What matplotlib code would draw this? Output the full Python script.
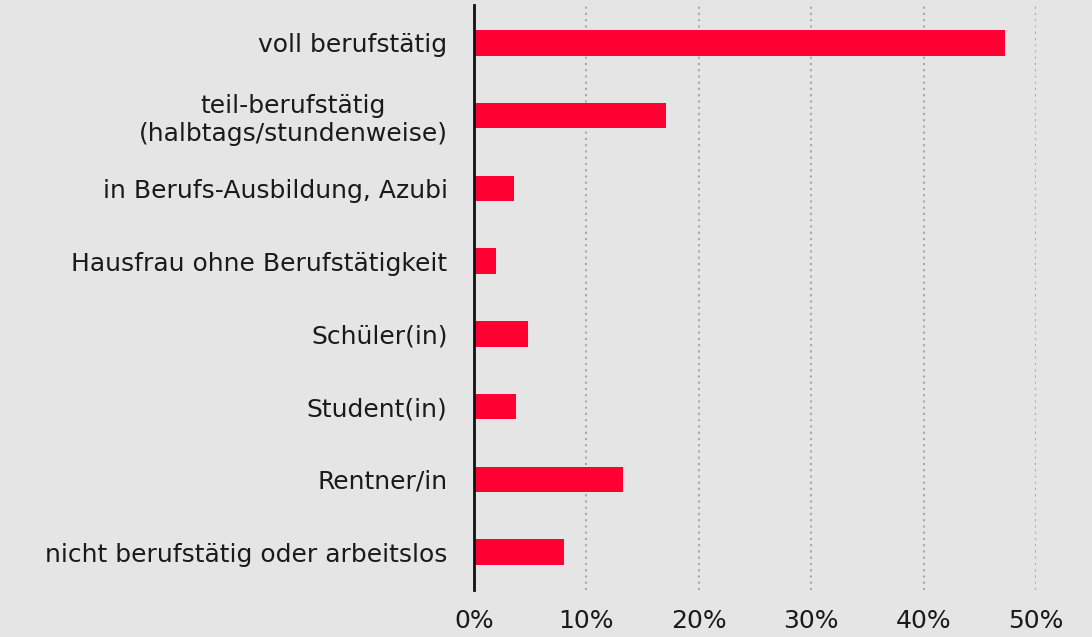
import numpy as np
import matplotlib.pyplot as plt

categories = [
    'voll berufstätig',
    'teil-berufstätig\n(halbtags/stundenweise)',
    'in Berufs-Ausbildung, Azubi',
    'Hausfrau ohne Berufstätigkeit',
    'Schüler(in)',
    'Student(in)',
    'Rentner/in',
    'nicht berufstätig oder arbeitslos',
]
values = [47.2, 17.1, 3.6, 2.0, 4.8, 3.7, 13.3, 8.0]
ticks = [0, 10, 20, 30, 40, 50]
tick_labels = ['0%', '10%', '20%', '30%', '40%', '50%']

bg = '#e5e5e5'
plt.rcParams['font.family'] = ['DejaVu Sans']

fig = plt.figure(figsize=(10.92, 6.37), dpi=100, facecolor=bg)
ax = fig.add_axes([0.434, 0.074, 0.5147, 0.918], facecolor=bg)

y = np.arange(len(categories))
ax.barh(y, values, height=0.35, color='#ff0033', zorder=3)

ax.set_xlim(0, 50)
ax.set_ylim(len(categories) - 0.48, -0.52)
ax.set_xticks(ticks)
ax.set_xticklabels(tick_labels)
ax.set_yticks(y)
ax.set_yticklabels(categories, linespacing=1.2)

ax.grid(axis='x', linestyle=(0, (1, 2)), color='#a8a8a8', linewidth=1.5, zorder=0)
ax.grid(axis='y', visible=False)
for s in ['top', 'right', 'bottom']:
    ax.spines[s].set_visible(False)
ax.spines['left'].set_color('#111111')
ax.spines['left'].set_linewidth(2)
ax.spines['left'].set_zorder(4)

ax.tick_params(axis='both', length=0, labelsize=18, labelcolor='#1a1a1a')
ax.tick_params(axis='x', pad=14)
ax.tick_params(axis='y', pad=19)
for lbl in ax.get_yticklabels():
    lbl.set_horizontalalignment('right')
    lbl.set_multialignment('center')

fig.savefig('out.png', dpi=100, facecolor=bg)
